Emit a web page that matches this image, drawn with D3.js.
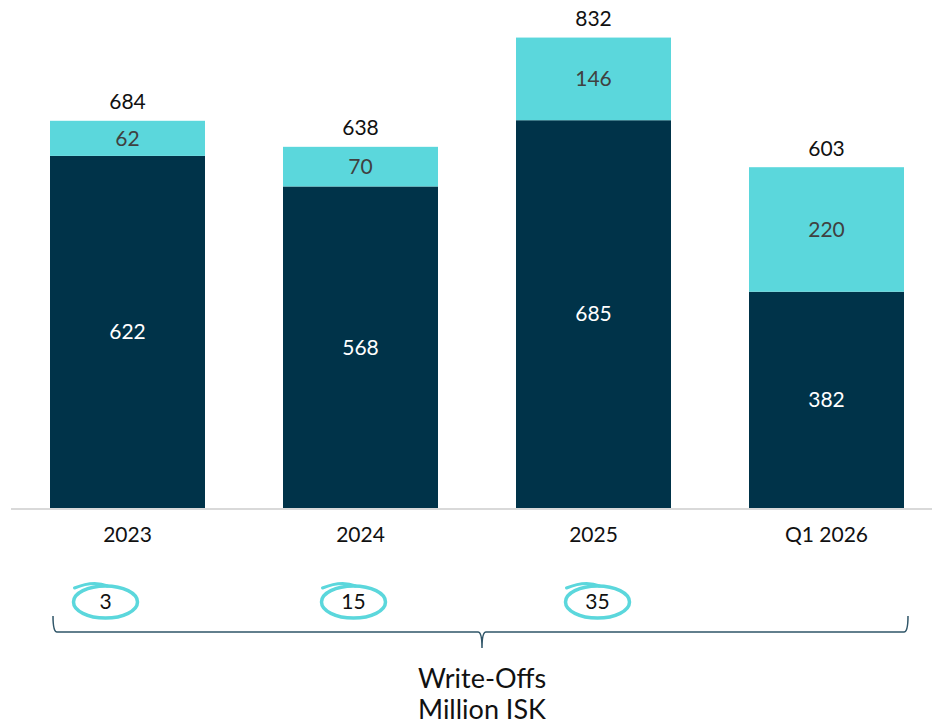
<!DOCTYPE html>
<html>
<head>
<meta charset="utf-8">
<script src="https://cdn.jsdelivr.net/npm/d3@7"></script>
<style>
  body { margin: 0; background: #fff; }
  #canvas { width: 932px; height: 724px; }
  text { font-family: Lato, "Open Sans", sans-serif; }
</style>
</head>
<body>
<div id="canvas" class="canvas"></div>
<script>
// --- data
var categories = ['2023', '2024', '2025', 'Q1 2026'];
var darkVals = [622, 568, 685, 382];
var lightVals = [62, 70, 146, 220];
var totals = [684, 638, 832, 603];
var writeOffCats = ['2023', '2024', '2025'];
var writeOffs = [3, 15, 35];
var circleNudge = [-22, -7, 4]; // hand placed circles sit a bit off-centre

var DARK = '#003349', LIGHT = '#5bd7dc';

var W = 932, H = 724;
var svg = d3.select('.canvas').append('svg')
  .attr('width', W).attr('height', H);

// --- scales
var x = d3.scaleBand()
  .domain(categories)
  .range([11, 943])
  .paddingInner(0.3348)
  .paddingOuter(0.1674);

var y = d3.scaleLinear()
  .domain([0, 832])
  .range([508, 37]);

var rows = categories.map(function(c, i) {
  return {cat: c, dark: darkVals[i], light: lightVals[i], total: totals[i]};
});

var stack = d3.stack().keys(['dark', 'light'])(rows);
var colors = {dark: DARK, light: LIGHT};

// --- bars
stack.forEach(function(layer) {
  svg.append('g').selectAll('rect')
    .data(layer)
    .enter().append('rect')
    .attr('x', function(d) { return x(d.data.cat); })
    .attr('width', x.bandwidth())
    .attr('y', function(d) { return y(d[1]); })
    .attr('height', function(d) { return y(d[0]) - y(d[1]); })
    .attr('fill', colors[layer.key]);

  svg.append('g').selectAll('text')
    .data(layer)
    .enter().append('text')
    .attr('x', function(d) { return x(d.data.cat) + x.bandwidth() / 2; })
    .attr('y', function(d) { return (y(d[0]) + y(d[1])) / 2; })
    .attr('dy', '0.35em')
    .attr('text-anchor', 'middle')
    .attr('font-size', 21)
    .attr('fill', layer.key === 'dark' ? '#ffffff' : '#404040')
    .text(function(d) { return d.data[layer.key]; });
});

// totals
svg.append('g').selectAll('text')
  .data(rows)
  .enter().append('text')
  .attr('x', function(d) { return x(d.cat) + x.bandwidth() / 2; })
  .attr('y', function(d) { return y(d.dark + d.light) - 19; })
  .attr('dy', '0.35em')
  .attr('text-anchor', 'middle')
  .attr('font-size', 21)
  .attr('fill', '#111')
  .text(function(d) { return d.total; });

// --- axis
var xAxis = d3.axisBottom(x).tickSize(0).tickPadding(19);
var gx = svg.append('g')
  .attr('transform', 'translate(0,' + y(0) + ')')
  .call(xAxis);
gx.select('.domain').remove();
gx.selectAll('text').attr('font-size', 21).attr('fill', '#111')
  .style('font-family', 'Lato, "Open Sans", sans-serif');
svg.append('line')
  .attr('x1', 11).attr('x2', 932)
  .attr('y1', y(0) + 1).attr('y2', y(0) + 1)
  .attr('stroke', '#d9d9d9').attr('stroke-width', 2);

// --- circled write-off values
var cy = 602;
var circ = svg.append('g').selectAll('g')
  .data(writeOffs)
  .enter().append('g')
  .attr('transform', function(d, i) {
    return 'translate(' + (x(writeOffCats[i]) + x.bandwidth() / 2 + circleNudge[i]) + ',' + cy + ')';
  });
circ.append('ellipse')
  .attr('rx', 32).attr('ry', 16)
  .attr('fill', 'none').attr('stroke', LIGHT).attr('stroke-width', 3.5);
circ.append('path')
  .attr('d', 'M-31,-14 Q-12,-22 2,-16')
  .attr('fill', 'none').attr('stroke', LIGHT).attr('stroke-width', 3).attr('stroke-linecap', 'round');
circ.append('text')
  .attr('dy', '0.35em')
  .attr('text-anchor', 'middle')
  .attr('font-size', 21)
  .attr('fill', '#111')
  .text(function(d) { return d; });

// --- brace
var bx0 = 53, bx1 = 908, bmid = 482, by = 632;
svg.append('path')
  .attr('d', 'M' + bx0 + ',' + (by - 16) + ' Q' + bx0 + ',' + by + ' ' + (bx0 + 4) + ',' + by +
    ' L' + (bmid - 4) + ',' + by + ' Q' + bmid + ',' + by + ' ' + bmid + ',' + (by + 16) +
    ' M' + (bmid + 0) + ',' + (by + 16) + ' Q' + bmid + ',' + by + ' ' + (bmid + 4) + ',' + by +
    ' L' + (bx1 - 4) + ',' + by + ' Q' + bx1 + ',' + by + ' ' + bx1 + ',' + (by - 16))
  .attr('fill', 'none').attr('stroke', '#2f5568').attr('stroke-width', 1.5);

// --- bottom label
svg.append('text')
  .attr('x', bmid).attr('y', 688)
  .attr('text-anchor', 'middle')
  .attr('font-size', 27).attr('fill', '#111')
  .text('Write-Offs');
svg.append('text')
  .attr('x', bmid).attr('y', 719)
  .attr('text-anchor', 'middle')
  .attr('font-size', 27).attr('fill', '#111')
  .text('Million ISK');
</script>
</body>
</html>
